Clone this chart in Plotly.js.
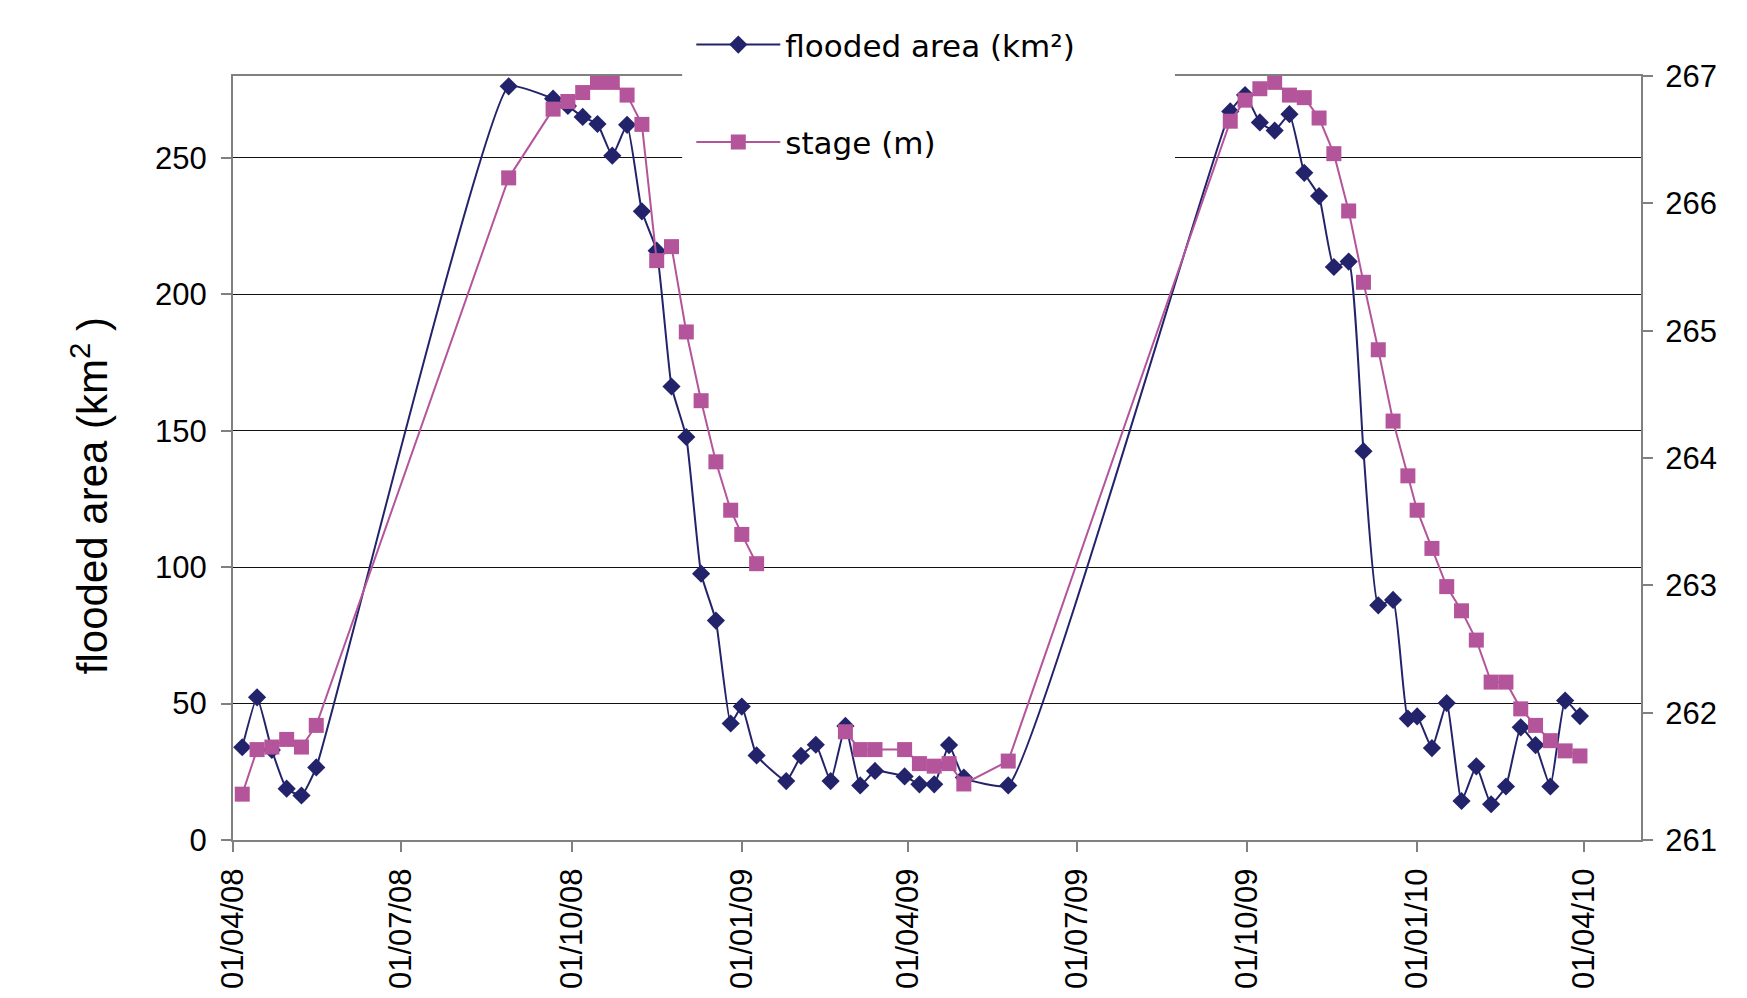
<!DOCTYPE html>
<html>
<head>
<meta charset="utf-8">
<script src="https://cdn.plot.ly/plotly-3.0.1.min.js"></script>
<style>html,body{margin:0;padding:0;background:#fff;} #chart{width:1747px;height:998px;}</style>
</head>
<body>
<div id="chart"></div>
<script>
// ---- data ----
const floodDates = ['2008-04-06','2008-04-14','2008-04-22','2008-04-30','2008-05-08','2008-05-16','2008-08-28','2008-09-21','2008-09-29','2008-10-07','2008-10-15','2008-10-23','2008-10-31','2008-11-08','2008-11-16','2008-11-24','2008-12-02','2008-12-10','2008-12-18','2008-12-26','2009-01-01','2009-01-09','2009-01-25','2009-02-02','2009-02-10','2009-02-18','2009-02-26','2009-03-06','2009-03-14','2009-03-30','2009-04-07','2009-04-15','2009-04-23','2009-05-01','2009-05-25','2009-09-22','2009-09-30','2009-10-08','2009-10-16','2009-10-24','2009-11-01','2009-11-09','2009-11-17','2009-11-25','2009-12-03','2009-12-11','2009-12-19','2009-12-27','2010-01-01','2010-01-09','2010-01-17','2010-01-25','2010-02-02','2010-02-10','2010-02-18','2010-02-26','2010-03-06','2010-03-14','2010-03-22','2010-03-30'];
const floodArea = [34,52.3,33,18.8,16.3,26.6,276.2,271.7,269,265,262.4,250.8,262.1,230.4,216,166.2,147.7,97.6,80.4,42.7,48.9,31,21.6,30.8,34.9,21.6,41.8,20,25.3,23.3,20.4,20.4,34.8,22.9,20,267,273,263,260,266,244.5,236,210,212,142.5,86,88,44.5,45.3,33.7,50.2,14.3,27,13.1,19.6,41.3,34.8,19.6,51.1,45.4];

const stageDates = ['2008-04-06','2008-04-14','2008-04-22','2008-04-30','2008-05-08','2008-05-16','2008-08-28','2008-09-21','2008-09-29','2008-10-07','2008-10-15','2008-10-23','2008-10-31','2008-11-08','2008-11-16','2008-11-24','2008-12-02','2008-12-10','2008-12-18','2008-12-26','2009-01-01','2009-01-09','2009-01-25','2009-02-26','2009-03-06','2009-03-14','2009-03-30','2009-04-07','2009-04-15','2009-04-23','2009-05-01','2009-05-25','2009-09-22','2009-09-30','2009-10-08','2009-10-16','2009-10-24','2009-11-01','2009-11-09','2009-11-17','2009-11-25','2009-12-03','2009-12-11','2009-12-19','2009-12-27','2010-01-01','2010-01-09','2010-01-17','2010-01-25','2010-02-02','2010-02-10','2010-02-18','2010-02-26','2010-03-06','2010-03-14','2010-03-22','2010-03-30'];
const stageValues = [261.36,261.71,261.73,261.79,261.73,261.90,266.20,266.74,266.80,266.87,266.95,266.95,266.85,266.62,265.55,265.66,264.99,264.45,263.97,263.59,263.40,263.17,null,261.85,261.71,261.71,261.71,261.60,261.58,261.60,261.44,261.62,266.645,266.81,266.90,266.95,266.85,266.83,266.67,266.39,265.94,265.38,264.85,264.29,263.86,263.59,263.29,262.99,262.80,262.57,262.24,262.24,262.03,261.90,261.78,261.70,261.66];

const xTickVals = ['2008-04-01','2008-07-01','2008-10-01','2009-01-01','2009-04-01','2009-07-01','2009-10-01','2010-01-01','2010-04-01'];
const leftTicks = [0,50,100,150,200,250];
const rightTicks = [261,262,263,264,265,266,267];

const floodName = 'flooded area (km²)';
const stageName = 'stage (m)';
const yTitle = 'flooded area (km<sup>2</sup> )';

const navy = '#23236b';
const pink = '#b4559b';
const axisGray = '#808080';

const traces = [
  {
    x: floodDates, y: floodArea, name: floodName, type: 'scatter', mode: 'lines+markers',
    legendgroup: 'a',
    line: {color: navy, width: 2, shape: 'spline', smoothing: 0.4},
    marker: {symbol: 'diamond', size: 14, color: navy}
  },
  {
    x: stageDates, y: stageValues, name: stageName, type: 'scatter', mode: 'lines+markers',
    yaxis: 'y2', legendgroup: 'b', connectgaps: false,
    line: {color: pink, width: 2},
    marker: {symbol: 'square', size: 15, color: pink}
  }
];

const tickFont = {family: 'Liberation Sans, Arial, sans-serif', size: 31, color: '#000'};

const layout = {
  width: 1747, height: 998,
  margin: {l: 233, r: 106, t: 76, b: 158},
  paper_bgcolor: '#fff', plot_bgcolor: '#fff',
  showlegend: true,
  legend: {
    x: 0.3255, xanchor: 'left', y: 1.076, yanchor: 'top',
    bgcolor: 'rgba(0,0,0,0)', borderwidth: 0,
    traceorder: 'grouped', tracegroupgap: 54, itemwidth: 84,
    font: {family: 'DejaVu Sans, Verdana, sans-serif', size: 31, color: '#000'}
  },
  xaxis: {
    type: 'date', range: ['2008-04-01', '2010-05-02'],
    tickmode: 'array', tickvals: xTickVals, tickformat: '%d/%m/%y', tickangle: -90,
    ticks: 'outside', ticklen: 10, tickwidth: 2, tickcolor: axisGray,
    showline: true, linecolor: axisGray, linewidth: 2, mirror: true,
    showgrid: false, zeroline: false, ticklabelstandoff: 4,
    tickfont: {family: tickFont.family, size: 31, color: '#000'}
  },
  yaxis: {
    range: [0, 280], tickmode: 'array', tickvals: leftTicks,
    ticks: 'outside', ticklen: 10, tickwidth: 2, tickcolor: axisGray,
    showline: true, linecolor: axisGray, linewidth: 2,
    showgrid: true, gridcolor: '#111', gridwidth: 1, zeroline: false,
    tickfont: tickFont, ticklabelstandoff: 8
  },
  yaxis2: {
    overlaying: 'y', side: 'right', range: [261, 267], tickmode: 'array', tickvals: rightTicks,
    ticks: 'outside', ticklen: 10, tickwidth: 2, tickcolor: axisGray,
    showline: true, linecolor: axisGray, linewidth: 2,
    showgrid: false, zeroline: false, tickfont: tickFont, ticklabelstandoff: 6
  },
  annotations: [
    {text: yTitle, xref: 'paper', yref: 'paper', x: -0.102, y: 0.4506,
     xanchor: 'center', yanchor: 'middle', textangle: -90, showarrow: false,
     font: {family: tickFont.family, size: 42, color: '#000'}}
  ],
  shapes: [
    {type: 'rect', xref: 'paper', yref: 'paper', x0: 0.319, x1: 0.669, y0: 0.884, y1: 1.12,
     fillcolor: '#fff', line: {width: 0}, layer: 'above'}
  ]
};

Plotly.newPlot('chart', traces, layout, {displayModeBar: false, staticPlot: true});
</script>
</body>
</html>
